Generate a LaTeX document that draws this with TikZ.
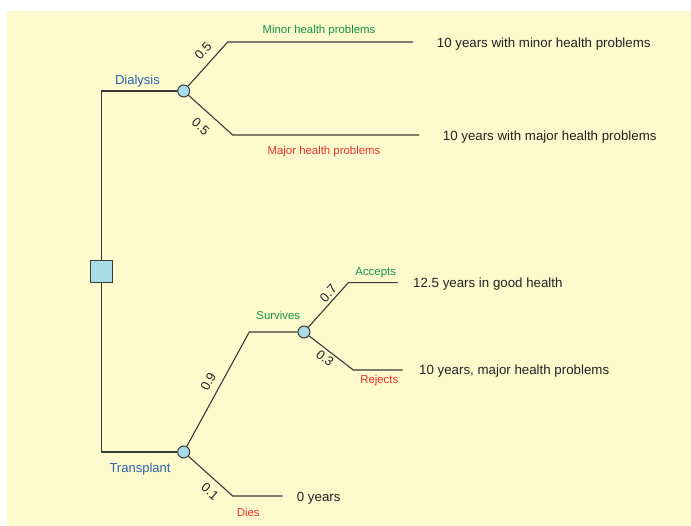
\documentclass[tikz,border=0pt]{standalone}
\usepackage{fontspec}
\setmainfont{Liberation Sans}
\definecolor{bgc}{HTML}{FFFACD}
\definecolor{boxc}{HTML}{A8DCE6}
\definecolor{linec}{HTML}{3A3A3A}
\definecolor{bluec}{HTML}{2A62AE}
\definecolor{greenc}{HTML}{17924C}
\definecolor{redc}{HTML}{E8312C}
\definecolor{txtc}{HTML}{222222}
\begin{document}
\begin{tikzpicture}[x=1pt,y=-1pt,
  branch/.style={draw=linec,line width=1.1pt},
  decision/.style={draw=linec,fill=boxc,line width=1pt,minimum size=22pt,inner sep=0pt},
  chance/.style={circle,draw=linec,fill=boxc,line width=1pt,minimum size=12pt,inner sep=0pt},
  optlabel/.style={text=bluec,font=\fontsize{13}{15}\selectfont,inner sep=0pt},
  goodlabel/.style={text=greenc,font=\fontsize{11.4}{13}\selectfont,inner sep=0pt},
  badlabel/.style={text=redc,font=\fontsize{11.4}{13}\selectfont,inner sep=0pt},
  prob/.style={text=txtc,font=\fontsize{13}{15}\selectfont,inner sep=0pt},
  outcome/.style={text=txtc,font=\fontsize{13.3}{15}\selectfont,inner sep=0pt,anchor=west}]
\useasboundingbox (0,0) rectangle (691,526);
\fill[white] (0,0) rectangle (691,526);
\fill[bgc] (7,11) rectangle (691,526);

% nodes
\node[decision] (dec) at (101.5,271.5) {};
\coordinate (dtop) at (101.5,91);
\coordinate (dbot) at (101.5,452);
\node[chance] (c1) at (183.7,91) {};
\node[chance] (c2) at (183.7,452) {};
\node[chance] (c3) at (304,332) {};

\coordinate (a1) at (227.7,42);
\coordinate (a1e) at (413,42);
\coordinate (b1) at (232.7,135);
\coordinate (b1e) at (419,135);
\coordinate (s1) at (249.3,332);
\coordinate (d1) at (232.7,496);
\coordinate (d1e) at (282.7,496);
\coordinate (ac) at (348.3,282.7);
\coordinate (ace) at (397.7,282.7);
\coordinate (rj) at (353.3,370);
\coordinate (rje) at (402.7,370);

% connectors
\draw[branch] (dec) -- (dtop) -- (c1);
\draw[branch] (dec) -- (dbot) -- (c2);
\draw[branch] (c1) -- (a1) -- (a1e);
\draw[branch] (c1) -- (b1) -- (b1e);
\draw[branch] (c2) -- (s1) -- (c3);
\draw[branch] (c2) -- (d1) -- (d1e);
\draw[branch] (c3) -- (ac) -- (ace);
\draw[branch] (c3) -- (rj) -- (rje);

% option labels
\node[optlabel] (ldia) at (137.5,81.5) {Dialysis};
\node[optlabel] (ltra) at (140,469) {Transplant};

% event labels
\node[goodlabel] (lmin) at (319,31) {Minor health problems};
\node[badlabel] (lmaj) at (324,151.5) {Major health problems};
\node[goodlabel] (lsur) at (278.3,315.5) {Survives};
\node[goodlabel] (lacc) at (375.7,272.3) {Accepts};
\node[badlabel] (lrej) at (379.3,381) {Rejects};
\node[badlabel] (ldie) at (248.3,512.3) {Dies};

% probabilities
\node[prob,rotate=48] (p1) at (203,50.7) {0.5};
\node[prob,rotate=-42] (p2) at (200.7,126.7) {0.5};
\node[prob,rotate=61.6] (p3) at (208.3,381.7) {0.9};
\node[prob,rotate=-42] (p4) at (210,491.7) {0.1};
\node[prob,rotate=48.5] (p5) at (328.3,293.3) {0.7};
\node[prob,rotate=-38] (p6) at (325,358.3) {0.3};

% outcomes
\node[outcome] (o1) at (436.7,44) {10 years with minor health problems};
\node[outcome] (o2) at (442.7,136.7) {10 years with major health problems};
\node[outcome] (o3) at (413,284) {12.5 years in good health};
\node[outcome] (o4) at (419,371) {10 years, major health problems};
\node[outcome] (o5) at (296.7,498) {0 years};
\end{tikzpicture}
\end{document}
